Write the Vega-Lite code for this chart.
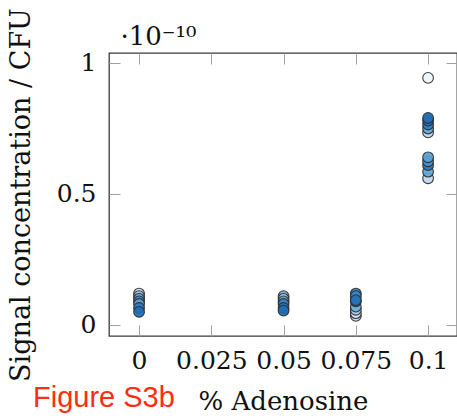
{
  "$schema": "https://vega.github.io/schema/vega-lite/v6.json",
  "autosize": "none",
  "padding": {"left": 109, "top": 53, "right": 0, "bottom": 82},
  "width": 348,
  "height": 283,
  "background": "white",
  "title": {
    "text": "Figure S3b",
    "orient": "bottom",
    "anchor": "start",
    "frame": "group",
    "font": "Liberation Sans",
    "fontSize": 29,
    "fontWeight": "normal",
    "color": "#ff2d13",
    "dx": -76,
    "offset": -30
  },
  "data": {
    "values": [
      {"pct": 0, "signal": 0.12, "shade": 0.15},
      {"pct": 0, "signal": 0.11, "shade": 0.35},
      {"pct": 0, "signal": 0.10, "shade": 0.55},
      {"pct": 0, "signal": 0.09, "shade": 0.8},
      {"pct": 0, "signal": 0.08, "shade": 0.6},
      {"pct": 0, "signal": 0.065, "shade": 0.9},
      {"pct": 0, "signal": 0.05, "shade": 1.0},
      {"pct": 0.05, "signal": 0.11, "shade": 0.5},
      {"pct": 0.05, "signal": 0.10, "shade": 0.3},
      {"pct": 0.05, "signal": 0.09, "shade": 0.6},
      {"pct": 0.05, "signal": 0.08, "shade": 0.85},
      {"pct": 0.05, "signal": 0.065, "shade": 0.95},
      {"pct": 0.05, "signal": 0.055, "shade": 1.0},
      {"pct": 0.075, "signal": 0.035, "shade": 0.2},
      {"pct": 0.075, "signal": 0.045, "shade": 0.1},
      {"pct": 0.075, "signal": 0.058, "shade": 0.3},
      {"pct": 0.075, "signal": 0.07, "shade": 0.5},
      {"pct": 0.075, "signal": 0.12, "shade": 0.9},
      {"pct": 0.075, "signal": 0.11, "shade": 0.8},
      {"pct": 0.075, "signal": 0.09, "shade": 1.0},
      {"pct": 0.075, "signal": 0.095, "shade": 0.95},
      {"pct": 0.1, "signal": 0.943, "shade": 0.0},
      {"pct": 0.1, "signal": 0.735, "shade": 0.2},
      {"pct": 0.1, "signal": 0.75, "shade": 0.5},
      {"pct": 0.1, "signal": 0.765, "shade": 0.9},
      {"pct": 0.1, "signal": 0.78, "shade": 0.95},
      {"pct": 0.1, "signal": 0.79, "shade": 1.0},
      {"pct": 0.1, "signal": 0.56, "shade": 0.2},
      {"pct": 0.1, "signal": 0.585, "shade": 0.55},
      {"pct": 0.1, "signal": 0.61, "shade": 0.9},
      {"pct": 0.1, "signal": 0.625, "shade": 0.7},
      {"pct": 0.1, "signal": 0.64, "shade": 0.6}
    ]
  },
  "config": {
    "view": {"stroke": "#3a3a3a", "strokeWidth": 1.3},
    "axis": {
      "grid": false,
      "domain": false,
      "tickColor": "#a0a0a0",
      "tickWidth": 1,
      "tickSize": -11,
      "labelFont": "DejaVu Serif",
      "labelFontSize": 25,
      "labelColor": "#111",
      "titleFont": "DejaVu Serif",
      "titleFontSize": 26,
      "titleFontWeight": "normal",
      "titleColor": "#111"
    }
  },
  "resolve": {"axis": {"x": "independent", "y": "independent"}},
  "layer": [
    {
      "mark": {"type": "point", "filled": true, "size": 115, "stroke": "#2a2a2a", "strokeWidth": 1.1, "fillOpacity": 0.92, "strokeOpacity": 0.9},
      "encoding": {
        "x": {
          "field": "pct", "type": "quantitative",
          "scale": {"domain": [-0.0104, 0.11], "nice": false, "zero": false},
          "axis": {"orient": "bottom", "values": [0, 0.025, 0.05, 0.075, 0.1], "format": ".3~f", "labelPadding": 23, "title": "% Adenosine", "titlePadding": 15}
        },
        "y": {
          "field": "signal", "type": "quantitative",
          "scale": {"domain": [-0.042, 1.038], "nice": false, "zero": false},
          "axis": {"orient": "left", "values": [0, 0.5, 1], "format": "~g", "labelPadding": 24, "title": "Signal concentration / CFU", "titleFontSize": 27, "titlePadding": 21}
        },
        "fill": {
          "field": "shade", "type": "quantitative",
          "scale": {"domain": [0, 0.5, 1], "range": ["#eef4fc", "#6aaed8", "#1f6db5"]},
          "legend": null
        }
      }
    },
    {
      "mark": {"type": "point", "opacity": 0},
      "encoding": {
        "x": {
          "field": "pct", "type": "quantitative",
          "axis": {"orient": "top", "values": [0, 0.025, 0.05, 0.075, 0.1], "labels": false, "title": "·10⁻¹⁰", "titleAnchor": "start", "titleAlign": "left", "titleBaseline": "alphabetic", "titleX": 11, "titleY": -9}
        },
        "y": {
          "field": "signal", "type": "quantitative",
          "axis": {"orient": "right", "values": [0, 0.5, 1], "labels": false, "title": null}
        }
      }
    }
  ]
}
